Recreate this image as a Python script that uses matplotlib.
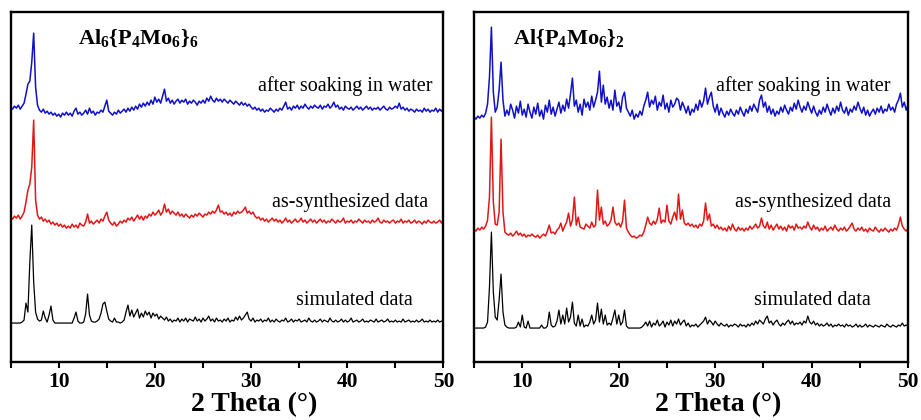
import numpy as np
import matplotlib
matplotlib.use("Agg")
import matplotlib.pyplot as plt

# 2 theta grid, 5..50 step 0.2 (226 points)
two_theta = np.round(np.arange(5.0, 50.0001, 0.2), 1)

# ---- Al6{P4Mo6}6 (left panel), intensities in arbitrary offset units ----
left_sim = [
    39, 39, 39, 39, 39, 39, 40, 42, 59, 50,
    100, 137, 80, 50, 43, 41, 42, 51, 44, 40,
    47, 56, 42, 39, 39, 39, 39, 39, 39, 39,
    39, 39, 39, 44, 50, 41, 39, 39, 40, 48,
    68, 47, 41, 40, 40, 41, 43, 49, 58, 60,
    51, 43, 41, 40, 44, 40, 40, 39, 40, 42,
    50, 57, 46, 52, 45, 49, 53, 44, 49, 45,
    51, 47, 50, 44, 49, 46, 48, 43, 46, 44,
    42, 45, 41, 43, 40, 42, 41, 44, 40, 43,
    41, 44, 40, 43, 42, 41, 45, 41, 43, 40,
    44, 41, 43, 46, 41, 43, 40, 44, 41, 42,
    40, 43, 41, 44, 40, 42, 41, 45, 42, 46,
    42, 44, 47, 50, 43, 41, 44, 40, 42, 41,
    43, 40, 42, 41, 44, 40, 42, 40, 43, 41,
    40, 42, 41, 44, 40, 41, 43, 40, 42, 41,
    43, 40, 41, 42, 40, 44, 41, 40, 42, 40,
    41, 43, 40, 42, 41, 40, 44, 41, 40, 42,
    40, 41, 43, 40, 42, 40, 41, 44, 40, 41,
    42, 40, 41, 43, 40, 41, 40, 42, 41, 40,
    43, 40, 41, 42, 40, 41, 43, 40, 41, 40,
    42, 40, 41, 40, 43, 40, 41, 42, 40, 41,
    40, 42, 40, 41, 43, 40, 41, 40, 42, 40,
    41, 40, 42, 40, 41, 40,
]

left_asyn = [
    145, 143, 146, 144, 147, 143, 146, 150, 160, 172,
    178, 195, 242, 162, 147, 143, 145, 141, 143, 140,
    142, 138, 140, 137, 139, 136, 138, 135, 137, 134,
    136, 134, 138, 135, 137, 134, 139, 137, 136, 140,
    148, 139, 141, 138, 140, 142, 139, 143, 141, 146,
    150, 142, 139, 137, 140, 136, 138, 141, 139, 142,
    140, 144, 142, 145, 141, 144, 147, 143, 146, 142,
    146, 144, 148, 146, 150, 147, 149, 152, 147, 150,
    158, 150, 153, 148, 151, 149, 147, 150, 146, 148,
    145, 148, 146, 144, 147, 145, 148, 146, 149, 147,
    145, 148, 147, 150, 148, 151, 149, 152, 157, 150,
    151, 148, 150, 147, 149, 146, 150, 148, 151, 149,
    150, 152, 155, 149, 151, 148, 150, 146, 144, 145,
    142, 144, 141, 143, 140, 142, 144, 141, 143, 140,
    142, 139, 141, 144, 140, 142, 139, 141, 143, 140,
    141, 144, 140, 142, 139, 141, 143, 140, 142, 139,
    141, 143, 140, 142, 139, 141, 140, 143, 141, 139,
    142, 140, 141, 144, 139, 141, 140, 142, 139, 141,
    140, 143, 141, 139, 142, 140, 141, 139, 142, 140,
    141, 144, 140, 139, 142, 140, 141, 139, 141, 142,
    139, 141, 140, 143, 139, 141, 140, 142, 139, 140,
    142, 139, 141, 140, 138, 141, 139, 142, 140, 139,
    141, 139, 140, 142, 139, 143,
]

left_soak = [
    255, 253, 256, 254, 257, 253, 256, 259, 268, 278,
    281, 300, 329, 275, 257, 252, 250, 253, 249, 251,
    248, 250, 247, 249, 246, 248, 245, 249, 247, 250,
    247, 249, 246, 251, 254, 248, 250, 247, 249, 252,
    248, 254, 249, 251, 247, 250, 249, 252, 250, 256,
    262, 251, 249, 247, 250, 248, 252, 249, 251, 253,
    250, 254, 251, 255, 252, 256, 253, 258, 255, 259,
    256, 260, 257, 262, 258, 265, 260, 263, 259, 266,
    273, 261, 264, 259, 262, 258, 261, 263, 259, 262,
    260, 263, 258, 261, 259, 262, 260, 257, 261, 259,
    262, 259, 264, 261, 266, 262, 260, 264, 261, 263,
    260, 263, 261, 259, 262, 260, 258, 261, 259, 257,
    260, 257, 259, 256, 258, 255, 253, 255, 252, 254,
    251, 253, 250, 252, 251, 254, 252, 250, 253, 251,
    254, 252, 256, 260, 253, 255, 252, 256, 254, 257,
    253, 256, 254, 258, 255, 253, 256, 254, 257, 255,
    254, 257, 253, 256, 255, 258, 254, 256, 260, 255,
    257, 253, 255, 252, 256, 254, 253, 255, 252, 254,
    256, 253, 255, 252, 254, 256, 253, 255, 252, 254,
    253, 255, 252, 254, 256, 253, 252, 255, 253, 254,
    256, 254, 259, 253, 255, 252, 254, 251, 253, 252,
    250, 253, 251, 252, 250, 254, 251, 253, 250, 252,
    251, 254, 250, 253, 251, 254,
]

# ---- Al{P4Mo6}2 (right panel) ----
right_sim = [
    34, 34, 34, 34, 34, 34, 35, 40, 75, 130,
    70, 45, 42, 62, 88, 50, 37, 35, 34, 34,
    34, 34, 35, 40, 35, 47, 35, 34, 41, 34,
    34, 34, 34, 34, 34, 37, 34, 34, 36, 50,
    37, 35, 36, 41, 52, 38, 47, 38, 54, 40,
    45, 60, 39, 36, 47, 36, 43, 35, 37, 36,
    40, 47, 38, 42, 59, 40, 53, 38, 47, 37,
    39, 37, 44, 52, 38, 47, 37, 40, 52, 36,
    34, 34, 34, 34, 34, 34, 34, 35, 37, 40,
    36, 41, 35, 39, 37, 42, 36, 38, 41, 35,
    40, 37, 42, 36, 41, 38, 43, 37, 40, 42,
    36, 39, 35, 37, 36, 38, 35, 37, 39, 41,
    45, 38, 42, 40, 37, 41, 38, 36, 39, 37,
    36, 38, 35, 37, 36, 38, 37, 35, 38, 36,
    37, 35, 38, 36, 39, 37, 41, 38, 42, 40,
    38, 43, 46, 39, 41, 37, 40, 42, 38, 36,
    39, 37, 40, 42, 38, 41, 37, 39, 38, 40,
    37, 41, 39, 46, 40, 38, 41, 37, 39, 36,
    38, 36, 37, 39, 36, 38, 35, 37, 36, 38,
    36, 37, 35, 38, 36, 37, 35, 36, 38, 35,
    37, 35, 36, 38, 35, 37, 36, 35, 37, 36,
    35, 37, 36, 35, 38, 36, 35, 37, 36, 35,
    37, 36, 39, 36, 37, 36,
]

right_asyn = [
    133, 131, 134, 132, 135, 133, 136, 142, 165, 245,
    160, 138, 137, 150, 223, 150, 130, 128, 127, 129,
    126, 128, 131, 127, 129, 126, 128, 125, 127, 126,
    128, 126, 125, 127, 124, 126, 128, 126, 131, 137,
    129, 130, 128, 132, 134, 139, 131, 136, 140, 149,
    136, 142, 165, 137, 145, 135, 134, 133, 138, 136,
    134, 140, 135, 137, 172, 142, 155, 138, 141, 136,
    138, 142, 155, 140, 137, 139, 135, 141, 162, 134,
    130, 127, 125, 126, 124, 125, 127, 126, 130, 137,
    145, 139, 137, 141, 138, 143, 154, 139, 142, 140,
    157, 141, 138, 145, 150, 142, 168, 143, 152, 139,
    137, 139, 136, 138, 135, 137, 134, 138, 136, 141,
    159, 142, 148, 136, 138, 134, 137, 133, 135, 132,
    134, 131, 136, 132, 138, 133, 131, 135, 132, 134,
    131, 134, 132, 136, 133, 135, 138, 134, 136, 144,
    136, 134, 140, 133, 137, 132, 135, 138, 133, 136,
    132, 135, 131, 137, 134, 136, 132, 138, 134, 135,
    133, 136, 134, 140, 135, 132, 137, 133, 135, 131,
    134, 132, 136, 131, 133, 135, 132, 137, 133, 131,
    134, 132, 135, 131, 133, 136, 139, 133, 131, 134,
    132, 135, 131, 133, 130, 134, 132, 131, 135, 132,
    130, 133, 131, 134, 132, 130, 133, 131, 134, 132,
    137, 145, 136, 133, 131, 134,
]

right_soak = [
    245, 243, 246, 244, 247, 245, 249, 258, 285, 335,
    270, 250, 255, 272, 300, 262, 246, 252, 247, 258,
    252, 244, 256, 249, 261, 247, 253, 245, 258, 250,
    244, 255, 248, 259, 246, 252, 243, 257, 250, 262,
    248, 255, 246, 253, 260, 249, 257, 251, 263, 254,
    268, 284, 256, 262, 250, 258, 247, 263, 255, 260,
    252, 266, 255, 262, 270, 291, 260, 277, 258, 265,
    254, 262, 252, 272, 256, 260, 250, 265, 270, 254,
    250, 246, 252, 243, 248, 245, 251, 247, 256, 262,
    270, 255, 262, 258, 266, 252, 260, 256, 267, 253,
    259, 250, 262, 255, 258, 264, 262, 252, 260, 255,
    249, 256, 247, 253, 250, 258, 252, 262, 255, 261,
    274, 258, 265, 270, 256, 250, 258, 247, 254, 249,
    245, 251, 247, 253, 249, 246, 252, 248, 255, 250,
    246, 253, 249, 256, 251, 258, 254, 250, 262, 267,
    255, 260, 250, 256, 248, 253, 246, 251, 248, 255,
    250, 257, 252, 248, 255, 251, 259, 253, 262, 255,
    250, 256, 252, 260, 254, 249, 256, 250, 246, 252,
    248, 255, 250, 258, 252, 247, 254, 249, 256, 251,
    260, 252, 249, 255, 247, 253, 250, 256, 252, 260,
    254, 249, 255, 247, 252, 246, 250, 253, 248, 254,
    250, 256, 249, 253, 251, 258, 252, 255, 250, 258,
    262, 269, 255, 260, 252, 258,
]

labels = ["after soaking in water", "as-synthesized data", "simulated data"]
titles = [r"$\mathbf{Al_6\{P_4Mo_6\}_6}$", r"$\mathbf{Al\{P_4Mo_6\}_2}$"]

plt.rcParams["font.family"] = ["Liberation Serif", "DejaVu Serif"]
plt.rcParams["mathtext.fontset"] = "custom"
plt.rcParams["mathtext.rm"] = "Liberation Serif"
plt.rcParams["mathtext.bf"] = "Liberation Serif:bold"

fig = plt.figure(figsize=(9.21, 4.2), dpi=100)
ax1 = fig.add_axes([0.0115, 0.138, 0.470, 0.833])
ax2 = fig.add_axes([0.5147, 0.138, 0.4713, 0.833])

panels = [
    (ax1, left_soak, left_asyn, left_sim, titles[0], 0.155, [0.975, 0.965, 0.93]),
    (ax2, right_soak, right_asyn, right_sim, titles[1], 0.09, [0.96, 0.962, 0.915]),
]

for ax, soak, asyn, sim, title, tx, lx in panels:
    ax.plot(two_theta, soak, color="#1010c8", lw=1.1)
    ax.plot(two_theta, asyn, color="#e01818", lw=1.1)
    ax.plot(two_theta, sim, color="black", lw=0.9)
    ax.set_xlim(5, 50)
    ax.set_ylim(0, 350)
    ax.set_yticks([])
    ax.set_xticks([10, 20, 30, 40, 50])
    ax.set_xticks([5, 15, 25, 35, 45], minor=True)
    ax.tick_params(axis="x", which="both", direction="out", length=4, width=1.5, top=False)
    ax.tick_params(axis="x", which="major", pad=3)
    for lab in ax.get_xticklabels():
        lab.set_fontsize(15.5)
        lab.set_fontweight("bold")
    for s in ax.spines.values():
        s.set_linewidth(1.7)
    ax.set_xlabel("2 Theta (°)", fontsize=20, fontweight="bold", va="center")
    ax.xaxis.set_label_coords(0.562, -0.123)
    ax.text(tx, 0.925, title, transform=ax.transAxes, fontsize=16, va="center", ha="left")
    ax.text(lx[0], 0.79, labels[0], transform=ax.transAxes, fontsize=14.5, ha="right", va="center")
    ax.text(lx[1], 0.455, labels[1], transform=ax.transAxes, fontsize=14.5, ha="right", va="center")
    ax.text(lx[2], 0.177, labels[2], transform=ax.transAxes, fontsize=14.5, ha="right", va="center")

fig.savefig("out.png", dpi=100)
